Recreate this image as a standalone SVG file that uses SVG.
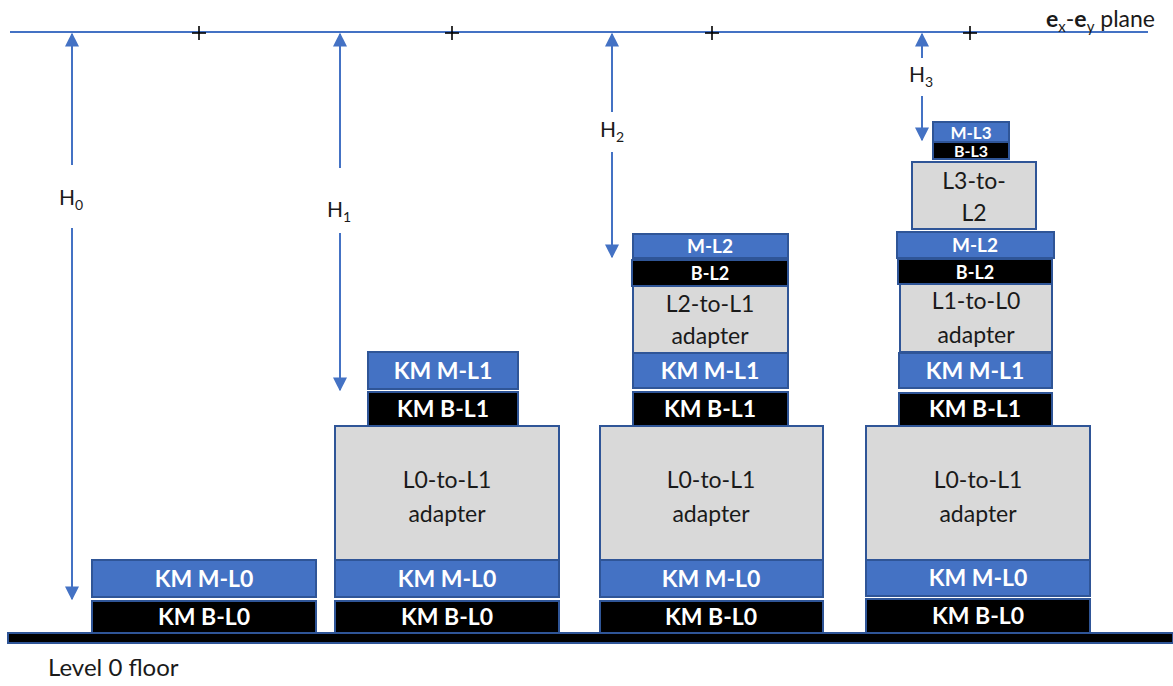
<svg xmlns="http://www.w3.org/2000/svg" width="1173" height="686" viewBox="0 0 1173 686">
<style>
.m{fill:#4472C4;stroke:#2F5597;stroke-width:2}
.b{fill:#000;stroke:#2F5597;stroke-width:2}
.a{fill:#D9D9D9;stroke:#2F5597;stroke-width:2}
.wt{font-family:Lato,"Open Sans",sans-serif;font-weight:bold;fill:#fff;text-anchor:middle}
.dt{font-family:Lato,"Open Sans",sans-serif;fill:#1a1a1a;text-anchor:middle}
.ln{stroke:#4472C4;stroke-width:2;fill:none}
.pl{stroke:#000;stroke-width:1.6}
</style>
<defs>
<marker id="ah" viewBox="0 0 10 10" refX="9" refY="5" markerWidth="7" markerHeight="7" orient="auto-start-reverse" markerUnits="strokeWidth"><path d="M0,0 L10,5 L0,10 z" fill="#4472C4"/></marker>
</defs>
<rect width="1173" height="686" fill="#fff"/>
<g id="plane">
<line x1="10" y1="32" x2="1148" y2="32" class="ln" stroke-width="1.5"/>
<g class="pl">
<line x1="192" y1="33" x2="206" y2="33"/><line x1="199" y1="26" x2="199" y2="40"/>
<line x1="445" y1="33" x2="459" y2="33"/><line x1="452" y1="26" x2="452" y2="40"/>
<line x1="705" y1="33" x2="719" y2="33"/><line x1="712" y1="26" x2="712" y2="40"/>
<line x1="963" y1="33" x2="977" y2="33"/><line x1="970" y1="26" x2="970" y2="40"/>
</g>
<text x="1046" y="27" font-family="Lato,'Open Sans',sans-serif" font-size="23" fill="#1a1a1a"><tspan font-weight="bold">e</tspan><tspan font-size="15" dy="5">x</tspan><tspan dy="-5">-</tspan><tspan font-weight="bold">e</tspan><tspan font-size="15" dy="5">y</tspan><tspan dy="-5"> plane</tspan></text>
</g>
<g id="floor">
<rect x="8" y="633" width="1165" height="10" fill="#000" stroke="#2F5597" stroke-width="2"/>
<text x="48" y="676" font-family="Lato,'Open Sans',sans-serif" font-size="24" fill="#1a1a1a">Level 0 floor</text>
</g>
<g id="connectors">
<line x1="72" y1="165" x2="72" y2="34" class="ln" marker-end="url(#ah)"/>
<line x1="72" y1="228" x2="72" y2="599" class="ln" marker-end="url(#ah)"/>
<line x1="340" y1="168" x2="340" y2="34" class="ln" marker-end="url(#ah)"/>
<line x1="340" y1="233" x2="340" y2="390" class="ln" marker-end="url(#ah)"/>
<line x1="612" y1="112" x2="612" y2="34" class="ln" marker-end="url(#ah)"/>
<line x1="612" y1="152" x2="612" y2="257" class="ln" marker-end="url(#ah)"/>
<line x1="922" y1="58" x2="922" y2="34" class="ln" marker-end="url(#ah)"/>
<line x1="922" y1="96" x2="922" y2="140" class="ln" marker-end="url(#ah)"/>
</g>
<g id="labels" font-family="Lato,'Open Sans',sans-serif" font-size="21" fill="#1a1a1a">
<text x="59" y="205">H<tspan font-size="14" dy="5">0</tspan></text>
<text x="327" y="217">H<tspan font-size="14" dy="5">1</tspan></text>
<text x="600" y="137">H<tspan font-size="14" dy="5">2</tspan></text>
<text x="909" y="82">H<tspan font-size="14" dy="5">3</tspan></text>
</g>
<g id="s0-ml0"><rect class="m" x="92" y="560" width="224" height="37"/><text class="wt" x="204" y="587" font-size="23">KM M-L0</text></g>
<g id="s0-bl0"><rect class="b" x="92" y="601" width="224" height="32"/><text class="wt" x="204" y="625" font-size="23">KM B-L0</text></g>
<g id="s1-ml0"><rect class="m" x="335" y="560" width="224" height="37"/><text class="wt" x="447" y="587" font-size="23">KM M-L0</text></g>
<g id="s1-bl0"><rect class="b" x="335" y="601" width="224" height="32"/><text class="wt" x="447" y="625" font-size="23">KM B-L0</text></g>
<g id="s1-ad"><rect class="a" x="335" y="426" width="224" height="134"/><text class="dt" x="447" y="488" font-size="23">L0-to-L1</text><text class="dt" x="447" y="522" font-size="23">adapter</text></g>
<g id="s1-bl1"><rect class="b" x="368" y="392" width="150" height="34"/><text class="wt" x="443" y="417" font-size="23">KM B-L1</text></g>
<g id="s1-ml1"><rect class="m" x="368" y="352" width="150" height="37"/><text class="wt" x="443" y="379" font-size="23">KM M-L1</text></g>
<g id="s2-ml0"><rect class="m" x="600" y="560" width="223" height="37"/><text class="wt" x="711" y="587" font-size="23">KM M-L0</text></g>
<g id="s2-bl0"><rect class="b" x="600" y="601" width="223" height="32"/><text class="wt" x="711" y="625" font-size="23">KM B-L0</text></g>
<g id="s2-ad"><rect class="a" x="600" y="426" width="223" height="134"/><text class="dt" x="711" y="488" font-size="23">L0-to-L1</text><text class="dt" x="711" y="522" font-size="23">adapter</text></g>
<g id="s2-bl1"><rect class="b" x="633" y="392" width="155" height="34"/><text class="wt" x="710" y="417" font-size="23">KM B-L1</text></g>
<g id="s2-ml1"><rect class="m" x="633" y="353" width="155" height="35"/><text class="wt" x="710" y="379" font-size="23">KM M-L1</text></g>
<g id="s2-ad2"><rect class="a" x="633" y="286" width="155" height="67"/><text class="dt" x="710" y="312" font-size="23">L2-to-L1</text><text class="dt" x="710" y="344" font-size="23">adapter</text></g>
<g id="s2-bl2"><rect class="b" x="632" y="260" width="156" height="26"/><text class="wt" x="710" y="280" font-size="18">B-L2</text></g>
<g id="s2-ml2"><rect class="m" x="633" y="234" width="155" height="24"/><text class="wt" x="710" y="253" font-size="19">M-L2</text></g>
<g id="s3-ml0"><rect class="m" x="866" y="560" width="224" height="36"/><text class="wt" x="978" y="586" font-size="23">KM M-L0</text></g>
<g id="s3-bl0"><rect class="b" x="866" y="599" width="224" height="34"/><text class="wt" x="978" y="624" font-size="23">KM B-L0</text></g>
<g id="s3-ad"><rect class="a" x="866" y="426" width="224" height="134"/><text class="dt" x="978" y="488" font-size="23">L0-to-L1</text><text class="dt" x="978" y="522" font-size="23">adapter</text></g>
<g id="s3-bl1"><rect class="b" x="899" y="393" width="153" height="33"/><text class="wt" x="975" y="417" font-size="23">KM B-L1</text></g>
<g id="s3-ml1"><rect class="m" x="899" y="353" width="153" height="35"/><text class="wt" x="975" y="379" font-size="23">KM M-L1</text></g>
<g id="s3-ad1"><rect class="a" x="900" y="284" width="152" height="68"/><text class="dt" x="976" y="309" font-size="23">L1-to-L0</text><text class="dt" x="976" y="343" font-size="23">adapter</text></g>
<g id="s3-bl2"><rect class="b" x="898" y="259" width="154" height="25"/><text class="wt" x="975" y="279" font-size="18">B-L2</text></g>
<g id="s3-ml2"><rect class="m" x="897" y="232" width="157" height="26"/><text class="wt" x="975" y="252" font-size="19">M-L2</text></g>
<g id="s3-ad2"><rect class="a" x="912" y="162" width="124" height="67"/><text class="dt" x="974" y="189" font-size="23">L3-to-</text><text class="dt" x="974" y="221" font-size="23">L2</text></g>
<g id="s3-bl3"><rect class="b" x="933" y="142" width="76" height="17"/><text class="wt" x="971" y="157" font-size="16">B-L3</text></g>
<g id="s3-ml3"><rect class="m" x="933" y="122" width="76" height="20"/><text class="wt" x="971" y="139" font-size="17">M-L3</text></g>
</svg>
